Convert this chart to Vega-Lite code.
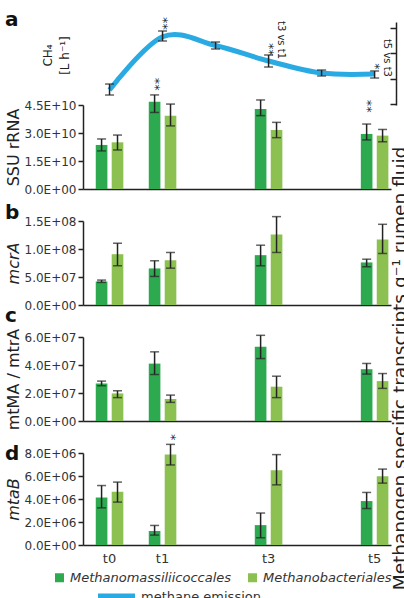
{
"$schema": "https://vega.github.io/schema/vega-lite/v6.json",
"background": "white",
"padding": {"top": 9, "left": 5, "right": 5, "bottom": 5},
"bounds": "flush",
"spacing": 32,
"resolve": {"scale": {"color": "shared", "stroke": "shared"}},
"config": {
  "font": "DejaVu Sans",
  "view": {"stroke": null},
  "axis": {"labelFont": "DejaVu Sans", "labelFontSize": 12, "labelColor": "#333", "titleFont": "DejaVu Sans", "titleFontWeight": "normal", "titleColor": "#222", "domainColor": "#222", "domainWidth": 1.5, "tickColor": "#222", "tickWidth": 1.5, "tickSize": 5, "grid": false, "labelPadding": 2, "labelOverlap": false},
  "axisY": {"titleFontSize": 16, "titlePadding": 3, "labelOverlap": false, "tickCount": 10},
  "legend": {"labelFont": "DejaVu Sans", "labelColor": "#333"},
  "title": {"font": "DejaVu Sans", "fontSize": 20, "fontWeight": "bold", "color": "#111", "anchor": "start", "frame": "group", "baseline": "alphabetic"},
  "text": {"color": "#222", "font": "DejaVu Sans"}
},
"datasets": {
  "bars": [
    {"panel": "SSU", "time": "t0", "group": "Methanomassiliicoccales", "value": 2.36e10, "lo": 2.04e10, "hi": 2.68e10},
    {"panel": "SSU", "time": "t0", "group": "Methanobacteriales", "value": 2.50e10, "lo": 2.09e10, "hi": 2.89e10},
    {"panel": "SSU", "time": "t1", "group": "Methanomassiliicoccales", "value": 4.68e10, "lo": 4.10e10, "hi": 5.04e10},
    {"panel": "SSU", "time": "t1", "group": "Methanobacteriales", "value": 3.93e10, "lo": 3.38e10, "hi": 4.55e10},
    {"panel": "SSU", "time": "t3", "group": "Methanomassiliicoccales", "value": 4.29e10, "lo": 3.93e10, "hi": 4.77e10},
    {"panel": "SSU", "time": "t3", "group": "Methanobacteriales", "value": 3.16e10, "lo": 2.75e10, "hi": 3.57e10},
    {"panel": "SSU", "time": "t5", "group": "Methanomassiliicoccales", "value": 2.95e10, "lo": 2.63e10, "hi": 3.48e10},
    {"panel": "SSU", "time": "t5", "group": "Methanobacteriales", "value": 2.86e10, "lo": 2.53e10, "hi": 3.19e10},
    {"panel": "mcrA", "time": "t0", "group": "Methanomassiliicoccales", "value": 0.42e8, "lo": 0.404e8, "hi": 0.445e8},
    {"panel": "mcrA", "time": "t0", "group": "Methanobacteriales", "value": 0.907e8, "lo": 0.701e8, "hi": 1.103e8},
    {"panel": "mcrA", "time": "t1", "group": "Methanomassiliicoccales", "value": 0.653e8, "lo": 0.51e8, "hi": 0.79e8},
    {"panel": "mcrA", "time": "t1", "group": "Methanobacteriales", "value": 0.80e8, "lo": 0.658e8, "hi": 0.938e8},
    {"panel": "mcrA", "time": "t3", "group": "Methanomassiliicoccales", "value": 0.89e8, "lo": 0.70e8, "hi": 1.068e8},
    {"panel": "mcrA", "time": "t3", "group": "Methanobacteriales", "value": 1.26e8, "lo": 0.938e8, "hi": 1.578e8},
    {"panel": "mcrA", "time": "t5", "group": "Methanomassiliicoccales", "value": 0.76e8, "lo": 0.683e8, "hi": 0.818e8},
    {"panel": "mcrA", "time": "t5", "group": "Methanobacteriales", "value": 1.17e8, "lo": 0.92e8, "hi": 1.441e8},
    {"panel": "mtMA", "time": "t0", "group": "Methanomassiliicoccales", "value": 2.68e7, "lo": 2.52e7, "hi": 2.85e7},
    {"panel": "mtMA", "time": "t0", "group": "Methanobacteriales", "value": 1.97e7, "lo": 1.67e7, "hi": 2.16e7},
    {"panel": "mtMA", "time": "t1", "group": "Methanomassiliicoccales", "value": 4.1e7, "lo": 3.32e7, "hi": 4.94e7},
    {"panel": "mtMA", "time": "t1", "group": "Methanobacteriales", "value": 1.57e7, "lo": 1.33e7, "hi": 1.85e7},
    {"panel": "mtMA", "time": "t3", "group": "Methanomassiliicoccales", "value": 5.3e7, "lo": 4.46e7, "hi": 6.12e7},
    {"panel": "mtMA", "time": "t3", "group": "Methanobacteriales", "value": 2.45e7, "lo": 1.67e7, "hi": 3.20e7},
    {"panel": "mtMA", "time": "t5", "group": "Methanomassiliicoccales", "value": 3.7e7, "lo": 3.35e7, "hi": 4.11e7},
    {"panel": "mtMA", "time": "t5", "group": "Methanobacteriales", "value": 2.85e7, "lo": 2.33e7, "hi": 3.39e7},
    {"panel": "mtaB", "time": "t0", "group": "Methanomassiliicoccales", "value": 4.13e6, "lo": 3.23e6, "hi": 5.17e6},
    {"panel": "mtaB", "time": "t0", "group": "Methanobacteriales", "value": 4.63e6, "lo": 3.73e6, "hi": 5.47e6},
    {"panel": "mtaB", "time": "t1", "group": "Methanomassiliicoccales", "value": 1.22e6, "lo": 0.86e6, "hi": 1.70e6},
    {"panel": "mtaB", "time": "t1", "group": "Methanobacteriales", "value": 7.86e6, "lo": 6.96e6, "hi": 8.75e6},
    {"panel": "mtaB", "time": "t3", "group": "Methanomassiliicoccales", "value": 1.73e6, "lo": 0.63e6, "hi": 2.78e6},
    {"panel": "mtaB", "time": "t3", "group": "Methanobacteriales", "value": 6.5e6, "lo": 5.23e6, "hi": 7.86e6},
    {"panel": "mtaB", "time": "t5", "group": "Methanomassiliicoccales", "value": 3.82e6, "lo": 3.17e6, "hi": 4.57e6},
    {"panel": "mtaB", "time": "t5", "group": "Methanobacteriales", "value": 5.97e6, "lo": 5.38e6, "hi": 6.60e6}
  ],
  "notes": [
    {"panel": "SSU", "time": "t1", "group": "Methanomassiliicoccales", "pos": 5.27e10, "label": "**"},
    {"panel": "SSU", "time": "t5", "group": "Methanomassiliicoccales", "pos": 4.09e10, "label": "**"},
    {"panel": "mtaB", "time": "t1", "group": "Methanobacteriales", "pos": 9.08e6, "label": "*"}
  ],
  "ch4": [
    {"time": "t0", "mean": 12.75, "lo": 11.76, "hi": 13.92},
    {"time": "t1", "mean": 23.2, "lo": 22.37, "hi": 24.33},
    {"time": "t2", "mean": 21.49, "lo": 20.8, "hi": 22.17},
    {"time": "t3", "mean": 18.44, "lo": 17.26, "hi": 19.62},
    {"time": "t4", "mean": 16.08, "lo": 15.5, "hi": 16.67},
    {"time": "t5", "mean": 15.89, "lo": 15.1, "hi": 16.48}
  ],
  "ch4notes": [
    {"time": "t1", "kind": "star", "label": "**", "pos": 24.53},
    {"time": "t3", "kind": "star", "label": "**", "pos": 19.4},
    {"time": "t5", "kind": "star", "label": "*", "pos": 16.7},
    {"time": "t3", "kind": "cmp", "label": "t3 vs t1", "pos": 18.83},
    {"time": "t5", "kind": "cmp", "label": "t5 vs t3", "pos": 15.3}
  ]
},
"vconcat": [
  {
    "width": 308, "height": 84,
    "title": {"text": "a", "dx": -78, "offset": -13},
    "resolve": {"scale": {"y": "independent"}},
    "layer": [
      {
        "layer": [
          {"data": {"name": "bars"}, "transform": [{"filter": "datum.panel === 'SSU'"}],
           "mark": {"type": "bar"},
           "encoding": {
             "x": {"field": "time", "type": "nominal", "scale": {"domain": ["t0","t1","t2","t3","t4","t5"], "paddingInner": 0.48, "paddingOuter": 0.145, "align": 0.83}, "axis": {"title": null, "labels": false, "ticks": false, "domain": true}},
             "xOffset": {"field": "group", "type": "nominal", "scale": {"domain": ["Methanomassiliicoccales","Methanobacteriales"], "paddingInner": 0.27, "paddingOuter": 0}},
             "y": {"field": "value", "type": "quantitative", "scale": {"domain": [0, 4.5e10], "nice": false}, "axis": {"title": "SSU rRNA", "values": [0, 1.5e10, 3e10, 4.5e10], "tickCount": 10, "labelOverlap": false, "labelBound": false, "labelExpr": "datum.value == 0 ? '0.0E+00' : format(datum.value / pow(10, floor(log(datum.value)/LN10 + 1e-9)), '.1f') + 'E+' + (floor(log(datum.value)/LN10 + 1e-9) < 10 ? '0' : '') + floor(log(datum.value)/LN10 + 1e-9)"}},
             "color": {"field": "group", "type": "nominal", "scale": {"domain": ["Methanomassiliicoccales","Methanobacteriales"], "range": ["#2da950","#8cc151"]},
               "legend": {"orient": "none", "legendX": -30, "legendY": 466, "title": null, "direction": "horizontal", "symbolType": "square", "symbolSize": 81, "symbolStrokeWidth": 0, "labelFontStyle": "italic", "labelFontSize": 13, "labelOffset": 4, "columnPadding": 14, "padding": 0, "labelLimit": 300}}
           }},
          {"data": {"name": "bars"}, "transform": [{"filter": "datum.panel === 'SSU'"}],
           "mark": {"type": "rule", "color": "#222", "strokeWidth": 1.5},
           "encoding": {
             "x": {"field": "time", "type": "nominal", "scale": {"domain": ["t0","t1","t2","t3","t4","t5"], "paddingInner": 0.48, "paddingOuter": 0.145, "align": 0.83}},
             "xOffset": {"field": "group", "type": "nominal", "scale": {"domain": ["Methanomassiliicoccales","Methanobacteriales"], "paddingInner": 0.27, "paddingOuter": 0}},
             "y": {"field": "lo", "type": "quantitative"}, "y2": {"field": "hi"}
           }},
          {"data": {"name": "bars"}, "transform": [{"filter": "datum.panel === 'SSU'"}],
           "mark": {"type": "tick", "color": "#222", "size": 9, "thickness": 1.5},
           "encoding": {
             "x": {"field": "time", "type": "nominal", "scale": {"domain": ["t0","t1","t2","t3","t4","t5"], "paddingInner": 0.48, "paddingOuter": 0.145, "align": 0.83}},
             "xOffset": {"field": "group", "type": "nominal", "scale": {"domain": ["Methanomassiliicoccales","Methanobacteriales"], "paddingInner": 0.27, "paddingOuter": 0}},
             "y": {"field": "lo", "type": "quantitative"}
           }},
          {"data": {"name": "bars"}, "transform": [{"filter": "datum.panel === 'SSU'"}],
           "mark": {"type": "tick", "color": "#222", "size": 9, "thickness": 1.5},
           "encoding": {
             "x": {"field": "time", "type": "nominal", "scale": {"domain": ["t0","t1","t2","t3","t4","t5"], "paddingInner": 0.48, "paddingOuter": 0.145, "align": 0.83}},
             "xOffset": {"field": "group", "type": "nominal", "scale": {"domain": ["Methanomassiliicoccales","Methanobacteriales"], "paddingInner": 0.27, "paddingOuter": 0}},
             "y": {"field": "hi", "type": "quantitative"}
           }},
          {"data": {"name": "notes"}, "transform": [{"filter": "datum.panel === 'SSU'"}],
           "mark": {"type": "text", "angle": 90, "align": "right", "baseline": "middle", "fontSize": 13},
           "encoding": {
             "x": {"field": "time", "type": "nominal", "scale": {"domain": ["t0","t1","t2","t3","t4","t5"], "paddingInner": 0.48, "paddingOuter": 0.145, "align": 0.83}},
             "xOffset": {"field": "group", "type": "nominal", "scale": {"domain": ["Methanomassiliicoccales","Methanobacteriales"], "paddingInner": 0.27, "paddingOuter": 0}},
             "y": {"field": "pos", "type": "quantitative"},
             "text": {"field": "label"}
           }}
        ]
      },
      {
        "resolve": {"axis": {"y": "independent"}},
        "layer": [
          {"data": {"name": "ch4"},
           "mark": {"type": "line", "interpolate": "cardinal", "strokeWidth": 5},
           "encoding": {
             "x": {"field": "time", "type": "nominal", "scale": {"domain": ["t0","t1","t2","t3","t4","t5"], "paddingInner": 0.48, "paddingOuter": 0.145, "align": 0.83}},
             "y": {"field": "mean", "type": "quantitative", "scale": {"domain": [9.8, 26.1], "range": [0, -83], "nice": false, "zero": false}, "axis": {"orient": "right", "offset": 5, "values": [10, 15, 20, 25], "tickCount": 10, "labels": false, "title": null, "tickSize": -6}},
             "stroke": {"datum": "methane emission", "type": "nominal", "scale": {"domain": ["methane emission"], "range": ["#2aaae2"]},
               "legend": {"orient": "none", "legendX": 12, "legendY": 470, "title": null, "symbolType": "stroke", "symbolSize": 1369, "symbolStrokeWidth": 6, "labelFontStyle": "normal", "labelFontSize": 13, "labelOffset": 3, "padding": 0}}
           }},
          {"data": {"name": "ch4"},
           "mark": {"type": "rule", "color": "#222", "strokeWidth": 1.5},
           "encoding": {
             "x": {"field": "time", "type": "nominal", "scale": {"domain": ["t0","t1","t2","t3","t4","t5"], "paddingInner": 0.48, "paddingOuter": 0.145, "align": 0.83}},
             "y": {"field": "lo", "type": "quantitative", "scale": {"domain": [9.8, 26.1], "range": [0, -83], "nice": false, "zero": false}, "axis": {"orient": "left", "title": ["CH₄", "[L h⁻¹]"], "domain": false, "ticks": false, "labels": false, "titleX": -41, "titleY": -50, "titleAngle": 270, "titleAlign": "center", "titleBaseline": "top", "titleFontSize": 12, "titleLineHeight": 17}},
             "y2": {"field": "hi"}
           }},
          {"data": {"name": "ch4"},
           "mark": {"type": "tick", "color": "#222", "size": 9, "thickness": 1.5},
           "encoding": {
             "x": {"field": "time", "type": "nominal", "scale": {"domain": ["t0","t1","t2","t3","t4","t5"], "paddingInner": 0.48, "paddingOuter": 0.145, "align": 0.83}},
             "y": {"field": "lo", "type": "quantitative", "scale": {"domain": [9.8, 26.1], "range": [0, -83], "nice": false, "zero": false}, "axis": null}
           }},
          {"data": {"name": "ch4"},
           "mark": {"type": "tick", "color": "#222", "size": 9, "thickness": 1.5},
           "encoding": {
             "x": {"field": "time", "type": "nominal", "scale": {"domain": ["t0","t1","t2","t3","t4","t5"], "paddingInner": 0.48, "paddingOuter": 0.145, "align": 0.83}},
             "y": {"field": "hi", "type": "quantitative", "scale": {"domain": [9.8, 26.1], "range": [0, -83], "nice": false, "zero": false}, "axis": {"orient": "right", "domain": false, "ticks": false, "labels": false, "title": "Methanogen specific transcripts g⁻¹ rumen fluid", "titleAngle": 270, "titleX": 14, "titleY": 263, "titleAlign": "center", "titleBaseline": "alphabetic", "titleFontSize": 18.5}}
           }},
          {"data": {"name": "ch4notes"}, "transform": [{"filter": "datum.kind === 'star'"}],
           "mark": {"type": "text", "angle": 90, "align": "right", "baseline": "middle", "fontSize": 13},
           "encoding": {
             "x": {"field": "time", "type": "nominal", "scale": {"domain": ["t0","t1","t2","t3","t4","t5"], "paddingInner": 0.48, "paddingOuter": 0.145, "align": 0.83}},
             "y": {"field": "pos", "type": "quantitative", "scale": {"domain": [9.8, 26.1], "range": [0, -83], "nice": false, "zero": false}, "axis": null},
             "text": {"field": "label"}
           }},
          {"data": {"name": "ch4notes"}, "transform": [{"filter": "datum.kind === 'cmp'"}],
           "mark": {"type": "text", "angle": 90, "align": "right", "baseline": "middle", "fontSize": 10, "xOffset": 12},
           "encoding": {
             "x": {"field": "time", "type": "nominal", "scale": {"domain": ["t0","t1","t2","t3","t4","t5"], "paddingInner": 0.48, "paddingOuter": 0.145, "align": 0.83}},
             "y": {"field": "pos", "type": "quantitative", "scale": {"domain": [9.8, 26.1], "range": [0, -83], "nice": false, "zero": false}, "axis": null},
             "text": {"field": "label"}
           }}
        ]
      }
    ]
  },
  {
    "width": 308, "height": 84,
    "title": {"text": "b", "dx": -78, "offset": -8},
    "layer": [
      {"data": {"name": "bars"}, "transform": [{"filter": "datum.panel === 'mcrA'"}],
       "mark": {"type": "bar"},
       "encoding": {
         "x": {"field": "time", "type": "nominal", "scale": {"domain": ["t0","t1","t2","t3","t4","t5"], "paddingInner": 0.48, "paddingOuter": 0.145, "align": 0.83}, "axis": {"title": null, "labels": false, "ticks": false, "domain": true}},
         "xOffset": {"field": "group", "type": "nominal", "scale": {"domain": ["Methanomassiliicoccales","Methanobacteriales"], "paddingInner": 0.27, "paddingOuter": 0}},
         "y": {"field": "value", "type": "quantitative", "scale": {"domain": [0, 1.5e8], "nice": false}, "axis": {"title": "mcrA", "titleFontStyle": "italic", "values": [0, 5e7, 1e8, 1.5e8], "tickCount": 10, "labelOverlap": false, "labelBound": false, "labelExpr": "datum.value == 0 ? '0.0E+00' : format(datum.value / pow(10, floor(log(datum.value)/LN10 + 1e-9)), '.1f') + 'E+' + (floor(log(datum.value)/LN10 + 1e-9) < 10 ? '0' : '') + floor(log(datum.value)/LN10 + 1e-9)"}},
         "color": {"field": "group", "type": "nominal", "scale": {"domain": ["Methanomassiliicoccales","Methanobacteriales"], "range": ["#2da950","#8cc151"]}}
       }},
      {"data": {"name": "bars"}, "transform": [{"filter": "datum.panel === 'mcrA'"}],
       "mark": {"type": "rule", "color": "#222", "strokeWidth": 1.5},
       "encoding": {
         "x": {"field": "time", "type": "nominal", "scale": {"domain": ["t0","t1","t2","t3","t4","t5"], "paddingInner": 0.48, "paddingOuter": 0.145, "align": 0.83}},
         "xOffset": {"field": "group", "type": "nominal", "scale": {"domain": ["Methanomassiliicoccales","Methanobacteriales"], "paddingInner": 0.27, "paddingOuter": 0}},
         "y": {"field": "lo", "type": "quantitative"}, "y2": {"field": "hi"}
       }},
      {"data": {"name": "bars"}, "transform": [{"filter": "datum.panel === 'mcrA'"}],
       "mark": {"type": "tick", "color": "#222", "size": 9, "thickness": 1.5},
       "encoding": {
         "x": {"field": "time", "type": "nominal", "scale": {"domain": ["t0","t1","t2","t3","t4","t5"], "paddingInner": 0.48, "paddingOuter": 0.145, "align": 0.83}},
         "xOffset": {"field": "group", "type": "nominal", "scale": {"domain": ["Methanomassiliicoccales","Methanobacteriales"], "paddingInner": 0.27, "paddingOuter": 0}},
         "y": {"field": "lo", "type": "quantitative"}
       }},
      {"data": {"name": "bars"}, "transform": [{"filter": "datum.panel === 'mcrA'"}],
       "mark": {"type": "tick", "color": "#222", "size": 9, "thickness": 1.5},
       "encoding": {
         "x": {"field": "time", "type": "nominal", "scale": {"domain": ["t0","t1","t2","t3","t4","t5"], "paddingInner": 0.48, "paddingOuter": 0.145, "align": 0.83}},
         "xOffset": {"field": "group", "type": "nominal", "scale": {"domain": ["Methanomassiliicoccales","Methanobacteriales"], "paddingInner": 0.27, "paddingOuter": 0}},
         "y": {"field": "hi", "type": "quantitative"}
       }}
    ]
  },
  {
    "width": 308, "height": 84,
    "title": {"text": "c", "dx": -78, "offset": 2.5},
    "layer": [
      {"data": {"name": "bars"}, "transform": [{"filter": "datum.panel === 'mtMA'"}],
       "mark": {"type": "bar"},
       "encoding": {
         "x": {"field": "time", "type": "nominal", "scale": {"domain": ["t0","t1","t2","t3","t4","t5"], "paddingInner": 0.48, "paddingOuter": 0.145, "align": 0.83}, "axis": {"title": null, "labels": false, "ticks": false, "domain": true}},
         "xOffset": {"field": "group", "type": "nominal", "scale": {"domain": ["Methanomassiliicoccales","Methanobacteriales"], "paddingInner": 0.27, "paddingOuter": 0}},
         "y": {"field": "value", "type": "quantitative", "scale": {"domain": [0, 6e7], "nice": false}, "axis": {"title": "mtMA / mtrA", "values": [0, 2e7, 4e7, 6e7], "tickCount": 10, "labelOverlap": false, "labelBound": false, "labelExpr": "datum.value == 0 ? '0.0E+00' : format(datum.value / pow(10, floor(log(datum.value)/LN10 + 1e-9)), '.1f') + 'E+' + (floor(log(datum.value)/LN10 + 1e-9) < 10 ? '0' : '') + floor(log(datum.value)/LN10 + 1e-9)"}},
         "color": {"field": "group", "type": "nominal", "scale": {"domain": ["Methanomassiliicoccales","Methanobacteriales"], "range": ["#2da950","#8cc151"]}}
       }},
      {"data": {"name": "bars"}, "transform": [{"filter": "datum.panel === 'mtMA'"}],
       "mark": {"type": "rule", "color": "#222", "strokeWidth": 1.5},
       "encoding": {
         "x": {"field": "time", "type": "nominal", "scale": {"domain": ["t0","t1","t2","t3","t4","t5"], "paddingInner": 0.48, "paddingOuter": 0.145, "align": 0.83}},
         "xOffset": {"field": "group", "type": "nominal", "scale": {"domain": ["Methanomassiliicoccales","Methanobacteriales"], "paddingInner": 0.27, "paddingOuter": 0}},
         "y": {"field": "lo", "type": "quantitative"}, "y2": {"field": "hi"}
       }},
      {"data": {"name": "bars"}, "transform": [{"filter": "datum.panel === 'mtMA'"}],
       "mark": {"type": "tick", "color": "#222", "size": 9, "thickness": 1.5},
       "encoding": {
         "x": {"field": "time", "type": "nominal", "scale": {"domain": ["t0","t1","t2","t3","t4","t5"], "paddingInner": 0.48, "paddingOuter": 0.145, "align": 0.83}},
         "xOffset": {"field": "group", "type": "nominal", "scale": {"domain": ["Methanomassiliicoccales","Methanobacteriales"], "paddingInner": 0.27, "paddingOuter": 0}},
         "y": {"field": "lo", "type": "quantitative"}
       }},
      {"data": {"name": "bars"}, "transform": [{"filter": "datum.panel === 'mtMA'"}],
       "mark": {"type": "tick", "color": "#222", "size": 9, "thickness": 1.5},
       "encoding": {
         "x": {"field": "time", "type": "nominal", "scale": {"domain": ["t0","t1","t2","t3","t4","t5"], "paddingInner": 0.48, "paddingOuter": 0.145, "align": 0.83}},
         "xOffset": {"field": "group", "type": "nominal", "scale": {"domain": ["Methanomassiliicoccales","Methanobacteriales"], "paddingInner": 0.27, "paddingOuter": 0}},
         "y": {"field": "hi", "type": "quantitative"}
       }}
    ]
  },
  {
    "width": 308, "height": 92,
    "title": {"text": "d", "dx": -78, "offset": -30},
    "layer": [
      {"data": {"name": "bars"}, "transform": [{"filter": "datum.panel === 'mtaB'"}],
       "mark": {"type": "bar"},
       "encoding": {
         "x": {"field": "time", "type": "nominal", "scale": {"domain": ["t0","t1","t2","t3","t4","t5"], "paddingInner": 0.48, "paddingOuter": 0.145, "align": 0.83}, "axis": {"title": null, "labels": true, "values": ["t0","t1","t3","t5"], "ticks": false, "domain": true, "labelFontSize": 13, "labelPadding": 7, "labelAngle": 0}},
         "xOffset": {"field": "group", "type": "nominal", "scale": {"domain": ["Methanomassiliicoccales","Methanobacteriales"], "paddingInner": 0.27, "paddingOuter": 0}},
         "y": {"field": "value", "type": "quantitative", "scale": {"domain": [0, 8e6], "nice": false}, "axis": {"title": "mtaB", "titleFontStyle": "italic", "values": [0, 2e6, 4e6, 6e6, 8e6], "tickCount": 10, "labelOverlap": false, "labelBound": false, "labelExpr": "datum.value == 0 ? '0.0E+00' : format(datum.value / pow(10, floor(log(datum.value)/LN10 + 1e-9)), '.1f') + 'E+' + (floor(log(datum.value)/LN10 + 1e-9) < 10 ? '0' : '') + floor(log(datum.value)/LN10 + 1e-9)"}},
         "color": {"field": "group", "type": "nominal", "scale": {"domain": ["Methanomassiliicoccales","Methanobacteriales"], "range": ["#2da950","#8cc151"]}}
       }},
      {"data": {"name": "bars"}, "transform": [{"filter": "datum.panel === 'mtaB'"}],
       "mark": {"type": "rule", "color": "#222", "strokeWidth": 1.5},
       "encoding": {
         "x": {"field": "time", "type": "nominal", "scale": {"domain": ["t0","t1","t2","t3","t4","t5"], "paddingInner": 0.48, "paddingOuter": 0.145, "align": 0.83}},
         "xOffset": {"field": "group", "type": "nominal", "scale": {"domain": ["Methanomassiliicoccales","Methanobacteriales"], "paddingInner": 0.27, "paddingOuter": 0}},
         "y": {"field": "lo", "type": "quantitative"}, "y2": {"field": "hi"}
       }},
      {"data": {"name": "bars"}, "transform": [{"filter": "datum.panel === 'mtaB'"}],
       "mark": {"type": "tick", "color": "#222", "size": 9, "thickness": 1.5},
       "encoding": {
         "x": {"field": "time", "type": "nominal", "scale": {"domain": ["t0","t1","t2","t3","t4","t5"], "paddingInner": 0.48, "paddingOuter": 0.145, "align": 0.83}},
         "xOffset": {"field": "group", "type": "nominal", "scale": {"domain": ["Methanomassiliicoccales","Methanobacteriales"], "paddingInner": 0.27, "paddingOuter": 0}},
         "y": {"field": "lo", "type": "quantitative"}
       }},
      {"data": {"name": "bars"}, "transform": [{"filter": "datum.panel === 'mtaB'"}],
       "mark": {"type": "tick", "color": "#222", "size": 9, "thickness": 1.5},
       "encoding": {
         "x": {"field": "time", "type": "nominal", "scale": {"domain": ["t0","t1","t2","t3","t4","t5"], "paddingInner": 0.48, "paddingOuter": 0.145, "align": 0.83}},
         "xOffset": {"field": "group", "type": "nominal", "scale": {"domain": ["Methanomassiliicoccales","Methanobacteriales"], "paddingInner": 0.27, "paddingOuter": 0}},
         "y": {"field": "hi", "type": "quantitative"}
       }},
      {"data": {"name": "notes"}, "transform": [{"filter": "datum.panel === 'mtaB'"}],
       "mark": {"type": "text", "angle": 90, "align": "right", "baseline": "middle", "fontSize": 13},
       "encoding": {
         "x": {"field": "time", "type": "nominal", "scale": {"domain": ["t0","t1","t2","t3","t4","t5"], "paddingInner": 0.48, "paddingOuter": 0.145, "align": 0.83}},
         "xOffset": {"field": "group", "type": "nominal", "scale": {"domain": ["Methanomassiliicoccales","Methanobacteriales"], "paddingInner": 0.27, "paddingOuter": 0}},
         "y": {"field": "pos", "type": "quantitative"},
         "text": {"field": "label"}
       }}
    ]
  }
]
}
